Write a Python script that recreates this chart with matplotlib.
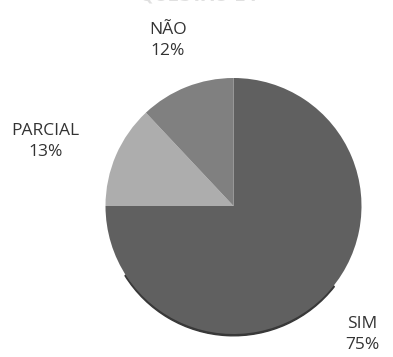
import numpy as np
import matplotlib.pyplot as plt
from matplotlib.patches import Wedge

categories = ['SIM', 'PARCIAL', 'NÃO']
values = [75, 13, 12]
colors = ['#606060', '#adadad', '#808080']
label_dist = [1.42, 1.55, 1.39]
label_nudge = [0, 4.5, 0]  # degrees

W, H = 393, 357
fig = plt.figure(figsize=(W / 100, H / 100), dpi=100)
ax = fig.add_axes([0, 0, 1, 1])

cx, cy, r = 233.5, 151, 128

# soft shadow on lower rim
shadow = Wedge((cx, cy - 1.8), r, 212, 322, color='#383838', zorder=1)
ax.add_patch(shadow)

wedges, _ = ax.pie(values, colors=colors, startangle=90, counterclock=False,
                   center=(cx, cy), radius=r, frame=True,
                   wedgeprops=dict(linewidth=0, zorder=2))
ax.set_xlim(0, W)
ax.set_ylim(0, H)
ax.set_aspect('auto')
ax.axis('off')

for w, cat, val, d, nd in zip(wedges, categories, values, label_dist, label_nudge):
    mid = np.deg2rad((w.theta1 + w.theta2) / 2 + nd)
    x = cx + r * d * np.cos(mid)
    y = cy + r * d * np.sin(mid)
    ax.text(x, y, f'{cat}\n{val}%', ha='center', va='center',
            fontsize=12.5, color='#333333', linespacing=1.45,
            family='Open Sans')

fig.text(0.505, 1 - 1.5 / H, 'QUESTÃO 14', ha='center', va='baseline',
         fontsize=12, fontweight='bold', color='#e0e0e0')

fig.savefig('out.png', dpi=100)
